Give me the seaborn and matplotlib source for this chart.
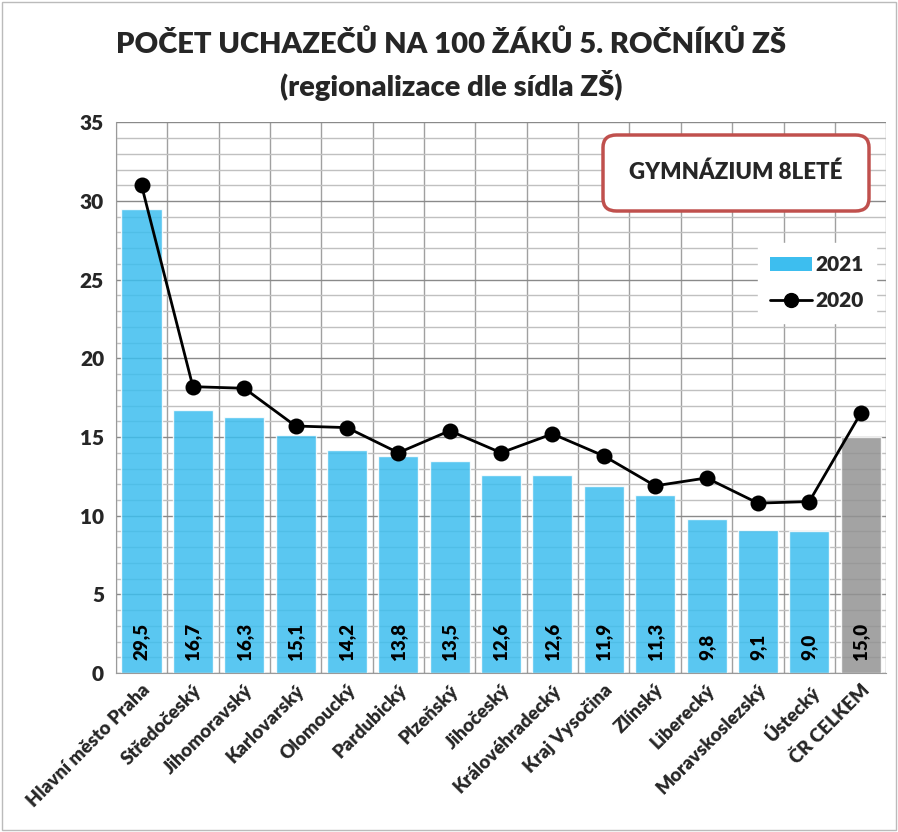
import numpy as np
import pandas as pd
import matplotlib
matplotlib.use("Agg")
import matplotlib.pyplot as plt
from matplotlib.patches import Patch, FancyBboxPatch, Rectangle
from matplotlib.lines import Line2D
from matplotlib.ticker import MultipleLocator
import seaborn as sns

# ---- data ----
regions = ["Hlavní město Praha", "Středočeský", "Jihomoravský", "Karlovarský",
           "Olomoucký", "Pardubický", "Plzeňský", "Jihočeský", "Královéhradecký",
           "Kraj Vysočina", "Zlínský", "Liberecký", "Moravskoslezský", "Ústecký",
           "ČR CELKEM"]
vals_2021 = [29.5, 16.7, 16.3, 15.1, 14.2, 13.8, 13.5, 12.6, 12.6, 11.9, 11.3, 9.8, 9.1, 9.0, 15.0]
vals_2020 = [31.0, 18.2, 18.1, 15.7, 15.6, 14.0, 15.4, 14.0, 15.2, 13.8, 11.9, 12.4, 10.8, 10.9, 16.5]

df = pd.DataFrame({"region": regions, "y2021": vals_2021, "y2020": vals_2020})

blue = "#3DBEEF"
grey = "#939393"
bar_colors = [blue] * (len(regions) - 1) + [grey]
W = "heavy"

sns.set_style("white")
plt.rcParams["font.family"] = ["Lato", "DejaVu Sans"]

fig = plt.figure(figsize=(8.98, 8.32), dpi=100)
ax = fig.add_axes([0.129, 0.191, 0.858, 0.662])

sns.barplot(data=df, x="region", y="y2021", hue="region", palette=bar_colors,
            legend=False, width=0.78, alpha=0.85, saturation=1, ax=ax)
sns.pointplot(data=df, x="region", y="y2020", color="black", markers="o",
              markersize=10, linewidth=2, ax=ax)

# grid: major every 5, minor every 1, vertical lines between categories
ax.set_ylim(0, 35)
ax.set_xlim(-0.5, len(regions) - 0.5)
ax.yaxis.set_major_locator(MultipleLocator(5))
ax.yaxis.set_minor_locator(MultipleLocator(1))
ax.set_xticks(np.arange(-0.5, len(regions), 1), minor=True)
ax.set_axisbelow(True)
ax.grid(axis="y", which="major", color="#8a8a8a", lw=1.0)
ax.grid(axis="y", which="minor", color="#c0c0c0", lw=1.0)
ax.grid(axis="x", which="minor", color="#a0a0a0", lw=1.0)
ax.grid(axis="x", which="major", visible=False)
for s in ["top", "right"]:
    ax.spines[s].set_visible(False)
ax.spines["left"].set_color("#9a9a9a")
ax.spines["bottom"].set_color("#9a9a9a")
ax.tick_params(axis="x", which="major", length=0, pad=6)
ax.tick_params(axis="x", which="minor", length=6, color="#9a9a9a")
ax.tick_params(axis="y", which="major", length=5, color="#9a9a9a")
ax.tick_params(axis="y", which="minor", length=0)

ax.set_xlabel("")
ax.set_ylabel("")
ax.set_xticks(range(len(regions)))
ax.set_xticklabels(regions, rotation=45, ha="right", rotation_mode="anchor",
                   fontsize=13.5, fontweight=W)
for lbl in ax.get_yticklabels():
    lbl.set_fontsize(15)
    lbl.set_fontweight(W)

# value labels inside bars
for i, v in enumerate(vals_2021):
    ax.text(i, 0.8, f"{v:.1f}".replace(".", ","), rotation=90, ha="center",
            va="bottom", fontsize=13.5, fontweight=W, color="black")

# title
fig.text(0.502, 0.947, "POČET UCHAZEČŮ NA 100 ŽÁKŮ 5. ROČNÍKŮ ZŠ",
         ha="center", va="center", fontsize=21, fontweight=W)
fig.text(0.502, 0.897, "(regionalizace dle sídla ZŠ)",
         ha="center", va="center", fontsize=21, fontweight=W)

# label box
box = FancyBboxPatch((603 / 898, 1 - 211 / 832), 266 / 898, 76 / 832,
                     boxstyle="round,pad=0,rounding_size=0.015",
                     transform=fig.transFigure, facecolor="white",
                     edgecolor="#C0504D", lw=2.5, zorder=5)
fig.patches.append(box)
fig.text(736 / 898, 1 - 172 / 832, "GYMNÁZIUM 8LETÉ", ha="center", va="center",
         fontsize=16, fontweight=W, zorder=6)

# legend
handles = [Patch(facecolor=blue, edgecolor="none", label="2021"),
           Line2D([0], [0], color="black", lw=2, marker="o", markersize=10, label="2020")]
leg = ax.legend(handles=handles, loc="upper right", bbox_to_anchor=(1.0, 0.80),
                frameon=True, fancybox=False, edgecolor="white", framealpha=1,
                prop={"weight": W, "size": 15}, handlelength=2.0,
                handletextpad=0.15, labelspacing=0.8, borderpad=0.6)

# outer border
fig.patches.append(Rectangle((0.002, 0.002), 0.996, 0.996, transform=fig.transFigure,
                             fill=False, edgecolor="#bbbbbb", lw=1))

fig.savefig("out.png", dpi=100)
